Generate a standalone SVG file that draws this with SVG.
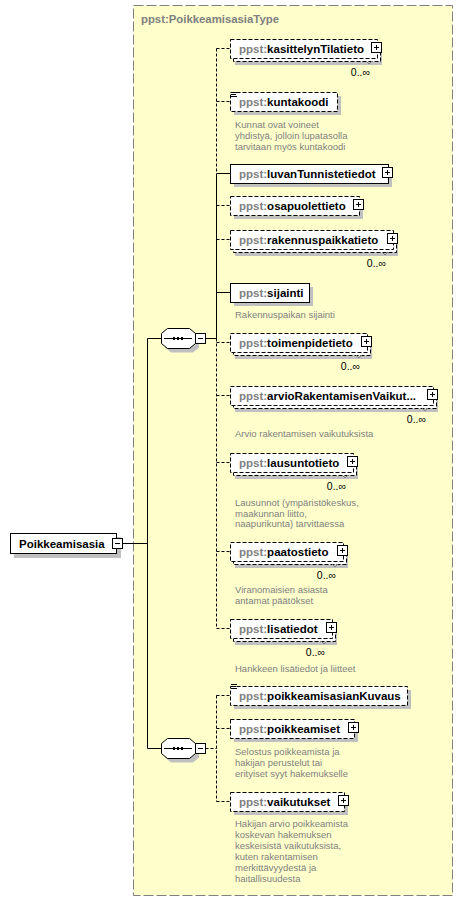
<svg xmlns="http://www.w3.org/2000/svg" xmlns:xlink="http://www.w3.org/1999/xlink" width="463" height="901" viewBox="0 0 463 901">
<style>
.opt{fill:#fff;stroke:#000;stroke-dasharray:4 2}
.req{fill:#fff;stroke:#000}
.sh{fill:#c0c0c0}
.ln{stroke:#000;fill:none}
.dl{stroke:#000;fill:none;stroke-dasharray:3 2}
.lbl{font-family:"Liberation Sans",Arial,sans-serif;font-size:11.5px;font-weight:bold;fill:#000}
.pre{fill:#808080}
.doc{font-family:"Liberation Sans",Arial,sans-serif;font-size:9.5px;fill:#808080}
.occ{font-family:"Liberation Sans",Arial,sans-serif;font-size:10.5px;fill:#000;text-anchor:end}
.tick{stroke:#808080;fill:none}
.ttl{font-family:"Liberation Sans",Arial,sans-serif;font-size:11px;font-weight:bold;fill:#808080}
</style>
<defs>
<g id="plus"><rect x="0.5" y="0.5" width="10" height="10" fill="#fff" stroke="#000"/><path d="M3 5.5h5M5.5 3v5" stroke="#000"/></g>
<g id="minus"><rect x="0.5" y="0.5" width="10" height="10" fill="#fff" stroke="#000"/><path d="M3 5.5h5" stroke="#000"/></g>
<g id="txt"><path d="M1 0.5h6M1 2.5h5M1 4.5h6" stroke="#000"/></g>
<g id="seq">
<polygon points="4,-6 10,-1 32,-1 38,-6 38,4 32,9 10,9 4,4" class="sh" transform="translate(0,5)"/>
<polygon points="0.5,-5 6.5,-10 28.5,-10 34.5,-5 34.5,5 28.5,10 6.5,10 0.5,5" fill="#fff" stroke="#000"/>
<path d="M3 0h28" stroke="#000"/>
<rect x="12" y="-1.5" width="2" height="3"/><rect x="16" y="-1.5" width="2" height="3"/><rect x="20" y="-1.5" width="2" height="3"/>
</g>
</defs>

<rect id="type-box" x="133.5" y="5.5" width="319" height="890" fill="#ffffcc" stroke="#808080" stroke-dasharray="10 3"/>
<text class="ttl" x="141" y="23" textLength="138" lengthAdjust="spacingAndGlyphs">ppst:PoikkeamisasiaType</text>

<g id="connectors">
<path class="ln" d="M122.5 543.5H147.5M147.5 338.5V748.5M147.5 338.5H161.5M147.5 748.5H161.5"/>
<path class="ln" d="M205.5 338.5H216.5M216.5 173.5V338.5M216.5 173.5H230M216.5 292.5H230"/>
<path class="dl" d="M216.5 48.5V173.5M216.5 338.5V628.5M216.5 48.5H230M216.5 101.5H230M216.5 205.5H230M216.5 239.5H230M216.5 342.5H230M216.5 395.5H230M216.5 462.5H230M216.5 551.5H230M216.5 628.5H230"/>
<path class="dl" d="M205.5 748.5H216.5M216.5 695.5V801.5M216.5 695.5H230M216.5 728.5H230M216.5 801.5H230"/>
</g>

<g id="n-root">
<rect class="sh" x="14" y="537" width="107" height="21"/>
<rect class="req" x="10.5" y="533.5" width="106" height="20"/>
<text class="lbl" x="19" y="547.5">Poikkeamisasia</text>
<use xlink:href="#minus" x="112" y="538"/>
</g>

<g id="n-seq1">
<use xlink:href="#seq" x="161" y="338.5"/>
<use xlink:href="#minus" x="195" y="333"/>
</g>

<g id="n-seq2">
<use xlink:href="#seq" x="161" y="748.5"/>
<use xlink:href="#minus" x="195" y="743"/>
</g>

<g id="n-kasittelynTilatieto">
<rect class="sh" x="235" y="46" width="147" height="19"/>
<rect class="opt" x="233.5" y="42.5" width="147" height="19"/>
<rect class="opt" x="230.5" y="39.5" width="147" height="19"/>
<text class="lbl" x="239" y="53"><tspan class="pre">ppst:</tspan>kasittelynTilatieto</text>
<use xlink:href="#plus" x="371" y="42"/>
<path class="tick" d="M366 61l3 3l3-3"/>
<text class="occ" x="370" y="75.5">0..∞</text>
</g>

<g id="n-kuntakoodi">
<rect class="sh" x="234" y="96" width="107" height="19"/>
<rect class="opt" x="230.5" y="92.5" width="107" height="19"/>
<use xlink:href="#txt" x="230" y="92"/>
<text class="lbl" x="239" y="106"><tspan class="pre">ppst:</tspan>kuntakoodi</text>
<text class="doc" x="235" y="128">Kunnat ovat voineet</text>
<text class="doc" x="235" y="138.8">yhdistyä, jolloin lupatasolla</text>
<text class="doc" x="235" y="149.6">tarvitaan myös kuntakoodi</text>
</g>

<g id="n-luvanTunnistetiedot">
<rect class="sh" x="234" y="168" width="158" height="19"/>
<rect class="req" x="230.5" y="164.5" width="158" height="19"/>
<text class="lbl" x="239" y="178"><tspan class="pre">ppst:</tspan>luvanTunnistetiedot</text>
<use xlink:href="#plus" x="382" y="167"/>
</g>

<g id="n-osapuolettieto">
<rect class="sh" x="234" y="200" width="129" height="19"/>
<rect class="opt" x="230.5" y="196.5" width="129" height="19"/>
<text class="lbl" x="239" y="210"><tspan class="pre">ppst:</tspan>osapuolettieto</text>
<use xlink:href="#plus" x="353" y="199"/>
</g>

<g id="n-rakennuspaikkatieto">
<rect class="sh" x="235" y="237" width="163" height="19"/>
<rect class="opt" x="233.5" y="233.5" width="163" height="19"/>
<rect class="opt" x="230.5" y="230.5" width="163" height="19"/>
<text class="lbl" x="239" y="244"><tspan class="pre">ppst:</tspan>rakennuspaikkatieto</text>
<use xlink:href="#plus" x="387" y="233"/>
<path class="tick" d="M382 252l3 3l3-3"/>
<text class="occ" x="386" y="266.5">0..∞</text>
</g>

<g id="n-sijainti">
<rect class="sh" x="234" y="287" width="79" height="19"/>
<rect class="req" x="230.5" y="283.5" width="79" height="19"/>
<text class="lbl" x="239" y="297"><tspan class="pre">ppst:</tspan>sijainti</text>
<text class="doc" x="235" y="318">Rakennuspaikan sijainti</text>
</g>

<g id="n-toimenpidetieto">
<rect class="sh" x="235" y="340" width="137" height="19"/>
<rect class="opt" x="233.5" y="336.5" width="137" height="19"/>
<rect class="opt" x="230.5" y="333.5" width="137" height="19"/>
<text class="lbl" x="239" y="347"><tspan class="pre">ppst:</tspan>toimenpidetieto</text>
<use xlink:href="#plus" x="361" y="336"/>
<path class="tick" d="M356 355l3 3l3-3"/>
<text class="occ" x="360" y="369.5">0..∞</text>
</g>

<g id="n-arvioRakentamisenVaikutuksista">
<rect class="sh" x="235" y="393" width="203" height="19"/>
<rect class="opt" x="233.5" y="389.5" width="203" height="19"/>
<rect class="opt" x="230.5" y="386.5" width="203" height="19"/>
<text class="lbl" x="239" y="400"><tspan class="pre">ppst:</tspan>arvioRakentamisenVaikut...</text>
<use xlink:href="#plus" x="427" y="389"/>
<path class="tick" d="M422 408l3 3l3-3"/>
<text class="occ" x="426" y="422.5">0..∞</text>
<text class="doc" x="235" y="437">Arvio rakentamisen vaikutuksista</text>
</g>

<g id="n-lausuntotieto">
<rect class="sh" x="235" y="460" width="123" height="19"/>
<rect class="opt" x="233.5" y="456.5" width="123" height="19"/>
<rect class="opt" x="230.5" y="453.5" width="123" height="19"/>
<text class="lbl" x="239" y="467"><tspan class="pre">ppst:</tspan>lausuntotieto</text>
<use xlink:href="#plus" x="347" y="456"/>
<path class="tick" d="M342 475l3 3l3-3"/>
<text class="occ" x="346" y="489.5">0..∞</text>
<text class="doc" x="235" y="505.7">Lausunnot (ympäristökeskus,</text>
<text class="doc" x="235" y="516.5">maakunnan liitto,</text>
<text class="doc" x="235" y="527.3">naapurikunta) tarvittaessa</text>
</g>

<g id="n-paatostieto">
<rect class="sh" x="235" y="549" width="113" height="19"/>
<rect class="opt" x="233.5" y="545.5" width="113" height="19"/>
<rect class="opt" x="230.5" y="542.5" width="113" height="19"/>
<text class="lbl" x="239" y="556"><tspan class="pre">ppst:</tspan>paatostieto</text>
<use xlink:href="#plus" x="337" y="545"/>
<path class="tick" d="M332 564l3 3l3-3"/>
<text class="occ" x="336" y="578.5">0..∞</text>
<text class="doc" x="235" y="593.3">Viranomaisien asiasta</text>
<text class="doc" x="235" y="604.1">antamat päätökset</text>
</g>

<g id="n-lisatiedot">
<rect class="sh" x="235" y="626" width="102" height="19"/>
<rect class="opt" x="233.5" y="622.5" width="102" height="19"/>
<rect class="opt" x="230.5" y="619.5" width="102" height="19"/>
<text class="lbl" x="239" y="633"><tspan class="pre">ppst:</tspan>lisatiedot</text>
<use xlink:href="#plus" x="326" y="622"/>
<path class="tick" d="M321 641l3 3l3-3"/>
<text class="occ" x="325" y="655.5">0..∞</text>
<text class="doc" x="235" y="671.7">Hankkeen lisätiedot ja liitteet</text>
</g>

<g id="n-poikkeamisasianKuvaus">
<rect class="sh" x="234" y="690" width="177" height="19"/>
<rect class="opt" x="230.5" y="686.5" width="177" height="19"/>
<use xlink:href="#txt" x="230" y="684"/>
<text class="lbl" x="239" y="700"><tspan class="pre">ppst:</tspan>poikkeamisasianKuvaus</text>
</g>

<g id="n-poikkeamiset">
<rect class="sh" x="234" y="723" width="124" height="19"/>
<rect class="opt" x="230.5" y="719.5" width="124" height="19"/>
<text class="lbl" x="239" y="733"><tspan class="pre">ppst:</tspan>poikkeamiset</text>
<use xlink:href="#plus" x="348" y="722"/>
<text class="doc" x="235" y="755">Selostus poikkeamista ja</text>
<text class="doc" x="235" y="765.9">hakijan perustelut tai</text>
<text class="doc" x="235" y="776.8">erityiset syyt hakemukselle</text>
</g>

<g id="n-vaikutukset">
<rect class="sh" x="234" y="796" width="114" height="19"/>
<rect class="opt" x="230.5" y="792.5" width="114" height="19"/>
<text class="lbl" x="239" y="806"><tspan class="pre">ppst:</tspan>vaikutukset</text>
<use xlink:href="#plus" x="338" y="795"/>
<text class="doc" x="235" y="827.3">Hakijan arvio poikkeamista</text>
<text class="doc" x="235" y="838.2">koskevan hakemuksen</text>
<text class="doc" x="235" y="849.1">keskeisistä vaikutuksista,</text>
<text class="doc" x="235" y="860">kuten rakentamisen</text>
<text class="doc" x="235" y="870.9">merkittävyydestä ja</text>
<text class="doc" x="235" y="881.8">haitallisuudesta</text>
</g>
</svg>
